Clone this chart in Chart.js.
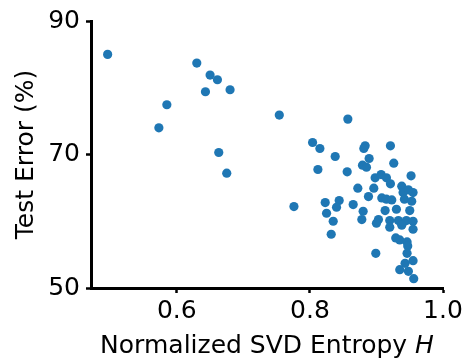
<!DOCTYPE html>
<html lang="en">
<head>
    <meta charset="UTF-8">
    <title>SVD Entropy vs Test Error</title>
    <script src="https://cdn.jsdelivr.net/npm/chart.js"></script>
    <style>
        html, body { margin: 0; padding: 0; background: #fff; }
        #wrap { width: 466px; height: 364px; }
    </style>
</head>
<body>
    <div id="wrap"><canvas id="scatterChart" width="466" height="364"></canvas></div>

    <script>
        // values
        const entropy = [
            0.496, 0.630, 0.650, 0.661, 0.643, 0.680, 0.585, 0.573, 0.663, 0.675,
            0.754, 0.857, 0.804, 0.815, 0.883, 0.881, 0.921, 0.838, 0.889, 0.879,
            0.885, 0.926, 0.812, 0.856, 0.898, 0.907, 0.915, 0.952, 0.921, 0.938,
            0.872, 0.896, 0.940, 0.955, 0.948, 0.888, 0.844, 0.823, 0.776, 0.840,
            0.865, 0.908, 0.915, 0.923, 0.942, 0.953, 0.825, 0.880, 0.913, 0.930,
            0.950, 0.835, 0.878, 0.903, 0.900, 0.920, 0.933, 0.945, 0.955, 0.920,
            0.938, 0.955, 0.832, 0.929, 0.935, 0.946, 0.947, 0.899, 0.946, 0.955,
            0.943, 0.935, 0.948, 0.956
        ];
        const testError = [
            85.0, 83.7, 81.9, 81.2, 79.4, 79.7, 77.45, 74.0, 70.3, 67.2,
            75.9, 75.3, 71.8, 70.9, 71.3, 70.9, 71.3, 69.7, 69.4, 68.4,
            68.1, 68.7, 67.75, 67.4, 66.5, 67.0, 66.5, 66.8, 65.6, 65.25,
            64.95, 64.95, 64.3, 64.3, 64.7, 63.7, 63.1, 62.8, 62.2, 62.1,
            62.5, 63.5, 63.3, 63.2, 63.3, 63.0, 61.2, 61.5, 61.6, 61.8,
            61.6, 60.0, 60.25, 60.25, 59.7, 60.1, 60.1, 60.1, 60.0, 59.1,
            59.4, 58.8, 58.05, 57.5, 57.2, 56.9, 56.3, 55.2, 55.2, 54.1,
            53.7, 52.75, 52.5, 51.4
        ];
        const xTicks = [0.6, 0.8, 1.0];
        const yTicks = [50, 70, 90];

        const points = entropy.map((x, i) => ({ x: x, y: testError[i] }));
        const fontFamily = "'DejaVu Sans', sans-serif";

        // x axis title with italic H
        const xTitlePlugin = {
            id: 'xTitle',
            afterDraw(chart) {
                const ctx = chart.ctx;
                const area = chart.chartArea;
                const plain = 'Normalized SVD Entropy ';
                ctx.save();
                ctx.fillStyle = '#000';
                ctx.textBaseline = 'alphabetic';
                ctx.font = '25px ' + fontFamily;
                const w1 = ctx.measureText(plain).width;
                ctx.font = 'italic 25px ' + fontFamily;
                const w2 = ctx.measureText('H').width;
                const start = (area.left + area.right) / 2 - (w1 + w2) / 2;
                ctx.font = '25px ' + fontFamily;
                ctx.fillText(plain, start, 353);
                ctx.font = 'italic 25px ' + fontFamily;
                ctx.fillText('H', start + w1, 353);
                ctx.restore();
            }
        };

        const ctx = document.getElementById('scatterChart').getContext('2d');
        new Chart(ctx, {
            type: 'scatter',
            data: {
                datasets: [{
                    data: points,
                    backgroundColor: '#1f77b4',
                    borderWidth: 0,
                    pointRadius: 4.6
                }]
            },
            options: {
                responsive: false,
                animation: false,
                layout: { padding: { left: 0, top: 15, right: 23, bottom: 0 } },
                plugins: { legend: { display: false }, tooltip: { enabled: false } },
                scales: {
                    x: {
                        type: 'linear',
                        min: 0.471,
                        max: 1.0,
                        afterBuildTicks: s => { s.ticks = xTicks.map(v => ({ value: v })); },
                        afterFit: s => { s.height = 76; },
                        border: { color: '#000', width: 3 },
                        grid: { drawOnChartArea: false, drawTicks: true, tickLength: 5, tickWidth: 2.5, tickColor: '#000' },
                        ticks: {
                            color: '#000',
                            padding: 3,
                            maxRotation: 0,
                            font: { family: fontFamily, size: 25 },
                            callback: v => v.toFixed(1)
                        }
                    },
                    y: {
                        min: 50,
                        max: 90,
                        afterBuildTicks: s => { s.ticks = yTicks.map(v => ({ value: v })); },
                        afterFit: s => { s.width = 91; },
                        border: { color: '#000', width: 3 },
                        grid: { drawOnChartArea: false, drawTicks: true, tickLength: 5, tickWidth: 2.5, tickColor: '#000' },
                        ticks: {
                            color: '#000',
                            padding: 6,
                            font: { family: fontFamily, size: 25 },
                            callback: v => String(v)
                        },
                        title: {
                            display: true,
                            text: 'Test Error (%)',
                            color: '#000',
                            padding: { top: 11, bottom: 0 },
                            font: { family: fontFamily, size: 25 }
                        }
                    }
                }
            },
            plugins: [xTitlePlugin]
        });
    </script>
</body>
</html>
